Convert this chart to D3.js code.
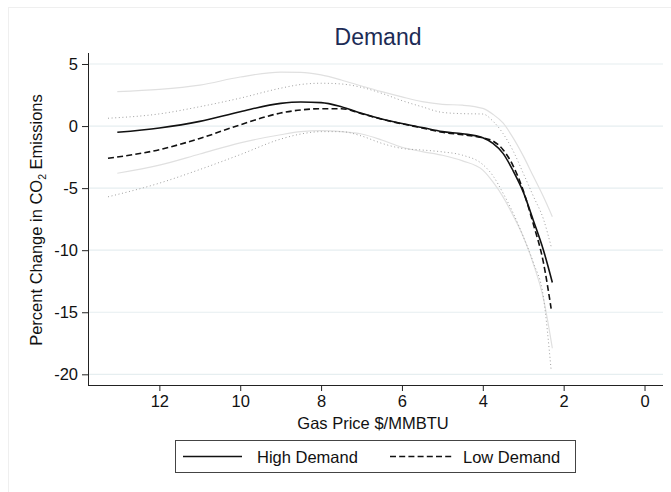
<!DOCTYPE html>
<html>
<head>
<meta charset="utf-8">
<script src="https://cdn.jsdelivr.net/npm/d3@7"></script>
<style>
  html, body { margin: 0; padding: 0; background: #fff; }
  svg { display: block; font-family: "Liberation Sans", Arial, Helvetica, sans-serif; }
</style>
</head>
<body>
<svg id="chart" width="671" height="492"></svg>
<script>
// ---- Data ----
const xTicks = [12, 10, 8, 6, 4, 2, 0];
const yTicks = [5, 0, -5, -10, -15, -20];

const highPrice = [13.04, 12, 11, 10, 9, 8.5, 8, 7.5, 7, 6.5, 6, 5.5, 5, 4.5, 4, 3.75, 3.5, 3.25, 3, 2.75, 2.5, 2.28];
const highEst   = [-0.5, -0.15, 0.38, 1.16, 1.83, 1.94, 1.89, 1.56, 1.03, 0.57, 0.2, -0.12, -0.45, -0.62, -0.95, -1.4, -2.2, -3.6, -5.3, -7.6, -10.0, -12.6];
const highUpper = [2.77, 2.95, 3.3, 3.95, 4.35, 4.33, 4.12, 3.71, 3.23, 2.77, 2.35, 1.97, 1.75, 1.68, 1.42, 0.95, 0.25, -0.95, -2.4, -4.05, -5.7, -7.3];
const highLower = [-3.8, -3.15, -2.25, -1.35, -0.7, -0.45, -0.37, -0.45, -0.64, -1.12, -1.71, -2.06, -2.35, -2.8, -3.55, -4.5, -5.7, -7.2, -8.9, -11.1, -13.9, -17.9];

const lowPrice = [13.27, 12, 11, 10, 9, 8.5, 8, 7.5, 7, 6.5, 6, 5.5, 5, 4.5, 4, 3.75, 3.5, 3.25, 3, 2.75, 2.5, 2.31];
const lowEst   = [-2.6, -1.9, -1.0, 0.1, 1.05, 1.3, 1.4, 1.4, 1.0, 0.55, 0.18, -0.15, -0.5, -0.7, -0.95, -1.2, -1.9, -3.2, -5.2, -7.9, -11.0, -14.7];
const lowUpper = [0.63, 0.98, 1.56, 2.25, 3.05, 3.35, 3.45, 3.39, 3.12, 2.64, 2.05, 1.55, 1.1, 1.0, 0.97, 0.4, -0.6, -2.0, -3.8, -5.65, -7.5, -9.7];
const lowLower = [-5.7, -4.6, -3.5, -2.3, -1.05, -0.64, -0.45, -0.45, -0.8, -1.39, -1.8, -1.93, -2.08, -2.35, -3.1, -4.0, -5.4, -7.0, -8.9, -11.0, -13.8, -19.65];

const seriesNames = ["High Demand", "Low Demand"];

// ---- Layout ----
const svg = d3.select("#chart");
const plot = { left: 88, right: 663, top: 53, bottom: 385 };

const x = d3.scaleLinear().domain([13.765, -0.457]).range([plot.left, plot.right]);
const y = d3.scaleLinear().domain([-20.86, 5.886]).range([plot.bottom, plot.top]);

// outer frame
svg.append("rect").attr("x", 8.5).attr("y", 7.5).attr("width", 700).attr("height", 600)
  .attr("fill", "none").attr("stroke", "#efefef");

// gridlines
svg.append("g").selectAll("line").data(yTicks).join("line")
  .attr("x1", plot.left).attr("x2", plot.right)
  .attr("y1", d => y(d)).attr("y2", d => y(d))
  .attr("stroke", "#e6eef0").attr("stroke-width", 1.2);

// axes
const yAxis = d3.axisLeft(y).tickValues(yTicks).tickSize(6).tickSizeOuter(0).tickPadding(4);
const gy = svg.append("g").attr("transform", `translate(${plot.left},0)`).call(yAxis);
gy.select(".domain").attr("d", `M0.5,${plot.top}V${plot.bottom}`).attr("stroke", "#222");
gy.selectAll(".tick line").attr("stroke", "#222");
gy.selectAll(".tick text").attr("font-size", 16.5).attr("fill", "#111")
  .text(d => d < 0 ? "-" + Math.abs(d) : d);

const xAxis = d3.axisBottom(x).tickValues(xTicks).tickSize(6).tickSizeOuter(0).tickPadding(4).tickFormat(d3.format("d"));
const gx = svg.append("g").attr("transform", `translate(0,${plot.bottom})`).call(xAxis);
gx.select(".domain").attr("d", `M${plot.left},0.5H${plot.right}`).attr("stroke", "#222");
gx.selectAll(".tick line").attr("stroke", "#222");
gx.selectAll(".tick text").attr("font-size", 16.5).attr("fill", "#111");

// lines
function pts(xs, ys) { return xs.map((v, i) => [v, ys[i]]).sort((a, b) => b[0] - a[0]); }
const line = d3.line().x(d => x(d[0])).y(d => y(d[1])).curve(d3.curveMonotoneX);

const layers = [
  { d: pts(highPrice, highUpper), stroke: "#e0e0e0", w: 1.2, dash: null },
  { d: pts(highPrice, highLower), stroke: "#e0e0e0", w: 1.2, dash: null },
  { d: pts(lowPrice, lowUpper), stroke: "#a0a0a0", w: 1, dash: "1,2.6" },
  { d: pts(lowPrice, lowLower), stroke: "#a0a0a0", w: 1, dash: "1,2.6" },
  { d: pts(lowPrice, lowEst), stroke: "#111", w: 1.6, dash: "6,3.2" },
  { d: pts(highPrice, highEst), stroke: "#111", w: 1.6, dash: null }
];
svg.append("g").selectAll("path").data(layers).join("path")
  .attr("d", l => line(l.d))
  .attr("fill", "none")
  .attr("stroke", l => l.stroke)
  .attr("stroke-width", l => l.w)
  .attr("stroke-dasharray", l => l.dash);

// title
svg.append("text").attr("x", 378).attr("y", 45).attr("text-anchor", "middle")
  .attr("font-size", 23).attr("fill", "#1c2b55").text("Demand");

// axis titles
svg.append("text").attr("x", 373).attr("y", 429)
  .attr("text-anchor", "middle").attr("font-size", 16.5).attr("fill", "#111")
  .text("Gas Price $/MMBTU");

const yt = svg.append("text").attr("transform", "translate(42,220) rotate(-90)")
  .attr("text-anchor", "middle").attr("font-size", 16.5).attr("fill", "#111");
yt.append("tspan").text("Percent Change in CO");
yt.append("tspan").attr("font-size", 10.5).attr("dy", 4).text("2");
yt.append("tspan").attr("dy", -4).text(" Emissions");

// legend
const lg = svg.append("g");
lg.append("rect").attr("x", 175.5).attr("y", 440.5).attr("width", 400).attr("height", 32)
  .attr("fill", "#fff").attr("stroke", "#444");
const legendItems = [
  { name: seriesNames[0], x1: 183, x2: 242, tx: 257, dash: null },
  { name: seriesNames[1], x1: 390, x2: 453, tx: 463, dash: "6,3.2" }
];
legendItems.forEach(it => {
  lg.append("line").attr("x1", it.x1).attr("x2", it.x2).attr("y1", 456.5).attr("y2", 456.5)
    .attr("stroke", "#111").attr("stroke-width", 1.5).attr("stroke-dasharray", it.dash);
  lg.append("text").attr("x", it.tx).attr("y", 462.5).attr("font-size", 16.5).attr("fill", "#111").text(it.name);
});
</script>
</body>
</html>
